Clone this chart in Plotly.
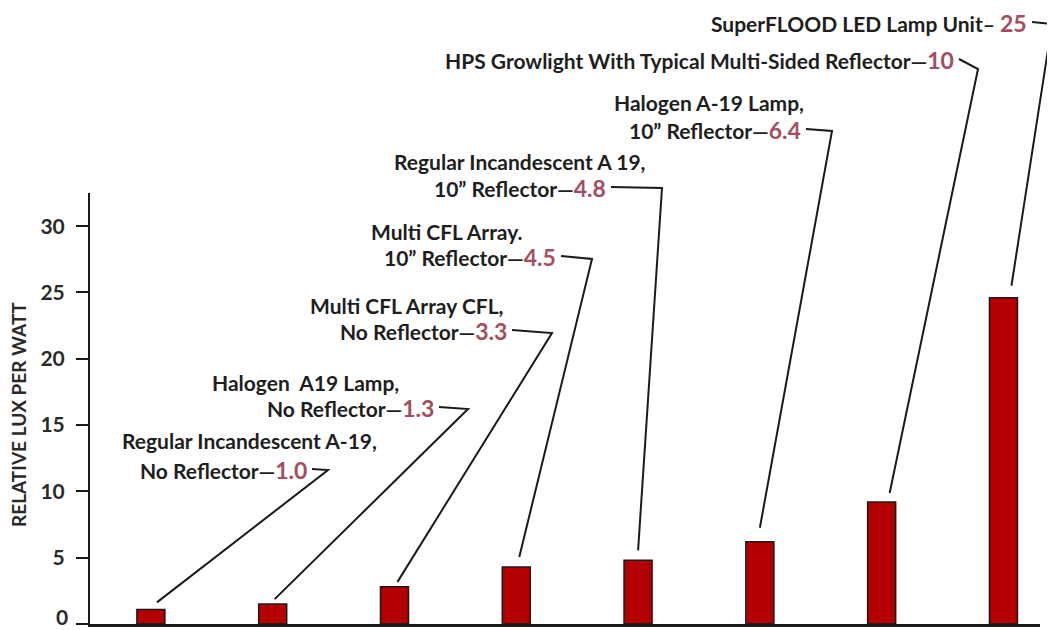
import plotly.graph_objects as go

# ---------------- data ----------------
categories = [
    "Regular Incandescent A-19, No Reflector",
    "Halogen A19 Lamp, No Reflector",
    "Multi CFL Array CFL, No Reflector",
    "Multi CFL Array, 10\" Reflector",
    "Regular Incandescent A 19, 10\" Reflector",
    "Halogen A-19 Lamp, 10\" Reflector",
    "HPS Growlight With Typical Multi-Sided Reflector",
    "SuperFLOOD LED Lamp Unit",
]
bar_values = [1.1, 1.5, 2.8, 4.3, 4.8, 6.2, 9.2, 24.6]
label_values = ["1.0", "1.3", "3.3", "4.5", "4.8", "6.4", "10", "25"]
name_line1 = [
    "Regular Incandescent A-19,",
    "Halogen  A19 Lamp,",
    "Multi CFL Array CFL,",
    "Multi CFL Array.",
    "Regular Incandescent A 19,",
    "Halogen A-19 Lamp,",
    None,
    None,
]
name_line2 = [
    "No Reflector—",
    "No Reflector—",
    "No Reflector—",
    "10\u201d Reflector—",
    "10\u201d Reflector—",
    "10\u201d Reflector—",
    "HPS Growlight With Typical Multi-Sided Reflector—",
    "SuperFLOOD LED Lamp Unit– ",
]
y_ticks = [0, 5, 10, 15, 20, 25, 30]
y_ticktext = ["0", "5", "10", "15", "20", "25", "30"]

# ---------------- layout geometry (pixels, page coords) ----------------
OFF = 8  # page body margin
W, H = 1055 - OFF, 630 - OFF
PLOT_L, PLOT_R, PLOT_T, PLOT_B = 90, 1040, 193, 624  # page pixels
ML, MR, MT, MB = PLOT_L - OFF, 1055 - PLOT_R, PLOT_T - OFF, 630 - PLOT_B
PW, PH = PLOT_R - PLOT_L, PLOT_B - PLOT_T
XR = [-0.5, 7.3]
YR = [0, 32.5]

def px_x(px):
    return (px - PLOT_L) / PW

def px_y(py):
    return (PLOT_B - py) / PH

def data_x(v):
    return (v - XR[0]) / (XR[1] - XR[0])

def data_y(v):
    return (v - YR[0]) / (YR[1] - YR[0])

# label placement: (line1 right x, line1 y, line2 right x, line2 y)
label_pos = [
    (378, 440, 308, 470),
    (400, 382, 435, 408),
    (505, 305, 508, 331),
    (524, 231, 557, 257),
    (647, 161, 607, 188),
    (805, 103, 802, 130),
    (None, None, 955, 60),
    (None, None, 1028, 23),
]
# hook corner (pixels)
hook_corner = [(328, 470), (468, 409), (552, 333), (592, 259), (662, 188),
               (832, 131), (978, 69), (1052, 24)]
# leader end offsets relative to bar top (dx px, gap px)
leader_end = [(6, 7), (2, 5), (3, 5), (3, 10), (0, 10), (0, 14), (8, 9), (8, 12)]

TEXT_COLOR = "#1e1e1e"
NUM_COLOR = "#a44d5e"
AXIS_TEXT = "#2a2a2a"
FONT = "Lato"
TS = 21
NS = 23

fig = go.Figure()
fig.add_trace(go.Bar(
    x=list(range(len(categories))),
    y=bar_values,
    width=0.23,
    marker=dict(color="#b40000", line=dict(color="#1a1a1a", width=1.5)),
    hovertext=categories,
))

annotations = []
shapes = []
for i in range(len(categories)):
    r1, y1, r2, y2 = label_pos[i]
    if name_line1[i]:
        annotations.append(dict(
            x=px_x(r1), y=px_y(y1), xref="paper", yref="paper",
            xanchor="right", yanchor="middle", showarrow=False, borderpad=0,
            text="<b>%s</b>" % name_line1[i],
            font=dict(family=FONT, size=TS, color=TEXT_COLOR),
        ))
    annotations.append(dict(
        x=px_x(r2), y=px_y(y2), xref="paper", yref="paper",
        xanchor="right", yanchor="middle", showarrow=False, borderpad=0,
        text="<b>%s<span style='color:%s;font-size:%dpx'>%s</span></b>"
             % (name_line2[i], NUM_COLOR, NS, label_values[i]),
        font=dict(family=FONT, size=TS, color=TEXT_COLOR),
    ))
    # leader line
    sx = px_x(r2 + 4)
    sy = px_y(y2 - 1)
    cx, cy = px_x(hook_corner[i][0]), px_y(hook_corner[i][1])
    dx, gap = leader_end[i]
    ex = data_x(i) + dx / PW
    ey = data_y(bar_values[i]) + gap / PH
    shapes.append(dict(
        type="path", xref="paper", yref="paper",
        path="M %f %f L %f %f L %f %f" % (sx, sy, cx, cy, ex, ey),
        line=dict(color="#1a1a1a", width=2),
    ))

# the "0" tick label is drawn as an annotation so it stays inside the page
annotations.append(dict(
    x=px_x(69), y=0, xref="paper", yref="paper",
    xanchor="right", yanchor="bottom", yshift=-(630 - PLOT_B), showarrow=False,
    borderpad=0, text="<b>%s</b>" % y_ticktext[0],
    font=dict(family=FONT, size=21, color=AXIS_TEXT),
))

# y-axis title
annotations.append(dict(
    x=px_x(18), y=px_y(415), xref="paper", yref="paper",
    xanchor="center", yanchor="middle", showarrow=False, textangle=-90,
    text="<b>RELATIVE LUX PER WATT</b>",
    font=dict(family=FONT, size=19, color=AXIS_TEXT),
))

fig.update_layout(
    width=W, height=H,
    margin=dict(l=ML, r=MR, t=MT, b=MB, pad=0, autoexpand=False),
    paper_bgcolor="white", plot_bgcolor="white",
    showlegend=False,
    xaxis=dict(range=XR, showgrid=False, zeroline=False, showticklabels=False,
               ticks="", showline=True, linecolor="#1a1a1a", linewidth=2.5,
               automargin=False),
    yaxis=dict(range=YR, tickvals=y_ticks, ticktext=[""] + y_ticktext[1:],
               ticks="outside", ticklen=12,
               tickwidth=2, tickcolor="#1a1a1a", showgrid=False, zeroline=False,
               showline=True, linecolor="#1a1a1a", linewidth=2, automargin=False,
               ticklabelstandoff=7, ticklabeloverflow="allow",
               tickfont=dict(family=FONT, size=21, color=AXIS_TEXT, weight="bold")),
    annotations=annotations,
    shapes=shapes,
)

fig.write_html("out.html")
